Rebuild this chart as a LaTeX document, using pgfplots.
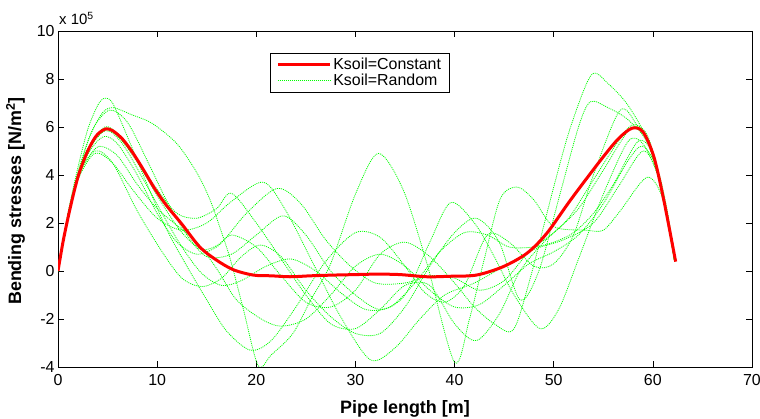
\documentclass[border=0pt]{standalone}
\usepackage{fontspec}
\setmainfont{Liberation Sans}
\usepackage{pgfplots}
\pgfplotsset{compat=1.18}
\definecolor{mgreen}{rgb}{0,1,0}
\begin{document}
\begin{tikzpicture}
\useasboundingbox (-58bp,-52bp) rectangle (702bp,367bp);
\begin{axis}[
  at={(0,0)}, anchor=south west,
  scale only axis, width=694bp, height=336bp,
  xmin=0, xmax=70, ymin=-4, ymax=10,
  xtick={0,10,...,70}, ytick={-4,-2,...,10},
  tick align=inside, tick pos=both,
  major tick length=6bp,
  axis line style={black, line width=0.8pt},
  every tick/.style={black, line width=0.6pt},
  scaled ticks=false,
  /pgf/number format/assume math mode=true,
  tick label style={font=\fontsize{16}{18}\selectfont},
  xticklabel style={yshift=-4bp},
  legend style={at={(0.3055,0.9345)}, anchor=north west, draw=black, line width=0.6pt,
    font=\fontsize{16}{18}\selectfont, inner xsep=6bp, inner ysep=3bp, row sep=-1bp},
  legend image code/.code={\draw[#1] (0bp,0bp) -- (52bp,0bp);},
  legend cell align=left,
  clip=true,
]
\addlegendimage{red, line width=3bp}
\addlegendentry{Ksoil=Constant}
\addlegendimage{mgreen, line width=0.8pt, dash pattern=on 1pt off 1pt}
\addlegendentry{Ksoil=Random}
\pgfplotsset{every axis plot/.append style={forget plot}}
% green random curves
\addplot[mgreen, line width=0.8pt, dash pattern=on 1pt off 1pt, smooth] coordinates {
(0,0)(1,2.4)(2,4.3)(3,5.9)(4,6.9)(4.7,7.2)(5.5,7.0)(7,5.6)(9,3.6)(11,1.7)(13,0.2)(15,-1.2)(17,-2.5)(19.4,-3.3)(21.5,-2.9)(24,-1.5)(27,0.4)(30,1.6)(32.5,1.4)(35,0.2)(37,-0.9)(39,-1.3)(41,-0.6)(43.3,1.5)(45.5,1.2)(48,0.2)(50,0.3)(52,1.5)(54,4.0)(56.7,6.7)(58.5,6.0)(60,4.9)(61,3.1)(62.2,0.4)};
\addplot[mgreen, line width=0.8pt, dash pattern=on 1pt off 1pt, smooth] coordinates {
(0,0)(1,2.3)(2,3.8)(3.7,4.9)(5.5,4.5)(7.5,3.4)(10,2.2)(12.5,1.7)(15,2.0)(17.5,2.9)(20.7,3.7)(23,2.5)(26,0.1)(28.5,-1.9)(31.5,-3.7)(34,-3.2)(36.5,-2.0)(39,-1.0)(42,-0.5)(45,0.2)(48,0.9)(51,1.3)(54,2.0)(56.5,3.5)(59,5.0)(60.5,4.0)(61.5,2.2)(62.2,0.4)};
\addplot[mgreen, line width=0.8pt, dash pattern=on 1pt off 1pt, smooth] coordinates {
(0,0)(1,2.3)(2,4.0)(3.2,5.6)(4.5,6.6)(5.6,6.8)(7.5,6.5)(9.5,6.15)(12,5.3)(14,4.1)(15.3,3.0)(16.3,1.85)(17.4,0.46)(18.7,-1.6)(20.2,-3.95)(21.5,-3.5)(23.7,-2.6)(25.5,-1.2)(27.5,0.3)(30,3.2)(32.3,4.9)(34.8,3.4)(37.2,0.33)(40,-3.8)(41.5,-2.0)(43,0.5)(44.6,3.0)(46.3,3.5)(48,2.96)(50,1.85)(53.3,1.7)(55,1.7)(56.7,2.5)(59.4,3.9)(61,3.0)(62.2,0.4)};
\addplot[mgreen, line width=0.8pt, dash pattern=on 1pt off 1pt, smooth] coordinates {
(0,0)(1,2.3)(2,4.1)(3.5,5.9)(5.2,6.7)(7,6.2)(9,4.6)(11,2.9)(13,1.5)(15,0.6)(17.5,0.7)(20,1.5)(22.7,2.3)(25,1.5)(27.5,0.0)(30,-1.0)(32.5,-1.6)(35,-1.0)(37.5,1.2)(39.6,2.85)(42,2.0)(44,0.6)(46,-1.0)(48.6,-2.4)(50.5,-1.6)(52.5,0.5)(55,3.2)(57.5,5.4)(59,5.3)(60.5,4.0)(61.5,2.3)(62.2,0.4)};
\addplot[mgreen, line width=0.8pt, dash pattern=on 1pt off 1pt, smooth] coordinates {
(0,0)(1,2.3)(2,3.9)(3.2,5.0)(4.6,5.6)(6,5.3)(8,4.0)(10,2.4)(12,1.2)(14,0.7)(16,1.0)(17.5,1.5)(20,1.0)(22.5,-0.2)(25,-1.3)(27.5,-1.5)(30,-0.8)(32.5,0.7)(35,1.2)(37.5,0.6)(40,-0.5)(42,-1.5)(44,-2.2)(45.9,-2.46)(47.5,-0.5)(50,3.5)(51.7,6.0)(53.8,8.17)(55.5,7.8)(57.5,6.9)(59.5,5.4)(61,3.2)(62.2,0.4)};
\addplot[mgreen, line width=0.8pt, dash pattern=on 1pt off 1pt, smooth] coordinates {
(0,0)(1,2.3)(2,3.9)(3.7,5.0)(5.5,4.5)(8,2.5)(10.5,0.8)(12.5,-0.3)(14.5,-0.65)(16.5,-0.3)(18.5,0.6)(20.4,1.08)(22.5,0.6)(25,-0.8)(27.5,-1.9)(30,-2.6)(32.5,-2.6)(35,-1.5)(37.5,0.2)(40,1.6)(42.2,2.2)(44.5,1.2)(46.6,-1.2)(48.5,0.0)(50.5,3.0)(52.5,6.0)(53.7,7.05)(55.5,6.8)(57.5,6.3)(59.5,5.3)(61,3.1)(62.2,0.4)};
\addplot[mgreen, line width=0.8pt, dash pattern=on 1pt off 1pt, smooth] coordinates {
(0,0)(1,2.3)(2,4.0)(3,5.1)(4.7,6.0)(6,5.7)(8,4.6)(10,3.4)(12,2.4)(14,2.2)(16,2.6)(17.5,3.24)(20,2.0)(22.5,0.5)(25,-1.0)(27.5,-2.2)(30,-2.4)(32.5,-1.6)(35,-0.6)(37.5,-0.6)(40,-2.2)(42.2,-2.9)(44.5,-1.8)(46.6,0.0)(49,1.2)(51.5,2.2)(54,3.8)(56.5,5.4)(58,6.1)(59.5,5.6)(61,3.3)(62.2,0.4)};
\addplot[mgreen, line width=0.8pt, dash pattern=on 1pt off 1pt, smooth] coordinates {
(0,0)(1,2.2)(2,3.9)(3,5.0)(4.8,5.9)(6.5,5.4)(8.5,4.2)(10.5,2.8)(12.5,1.6)(14.5,0.9)(16.5,1.2)(19,2.4)(22.1,3.44)(24.5,2.8)(27,1.3)(29.5,0.2)(32,-0.5)(35,-0.5)(37.5,-0.2)(40,-0.3)(42.5,-0.8)(45,-0.4)(47.5,0.8)(50,1.6)(52.5,2.6)(55,4.2)(57.8,5.95)(59.5,5.5)(61,3.2)(62.2,0.4)};
\addplot[mgreen, line width=0.8pt, dash pattern=on 1pt off 1pt, smooth] coordinates {
(0,0)(1,2.2)(2,3.9)(3,5.0)(4.8,5.85)(6.5,5.3)(8.5,3.9)(10.5,2.4)(12.5,1.0)(14.5,-0.1)(16.5,-0.6)(18.5,-0.4)(21,0.2)(23.5,0.5)(26,0.0)(28.5,-0.9)(31,-1.6)(33.5,-1.5)(36,-0.5)(38.5,0.8)(41,1.6)(43.3,1.5)(45.5,1.0)(48,1.0)(50,1.2)(52,1.6)(54,2.4)(56,3.6)(58.5,5.4)(60,4.9)(61,3.2)(62.2,0.4)};
\addplot[mgreen, line width=0.8pt, dash pattern=on 1pt off 1pt, smooth] coordinates {
(0,0)(1,2.3)(2,3.9)(3,4.7)(4.2,5.2)(6,4.8)(8,3.6)(10,2.6)(12,1.9)(14,1.2)(16,0.1)(18,-1.2)(20.5,-2.0)(22.5,-2.3)(25,-2.0)(27.5,-1.0)(30,0.2)(32.5,0.7)(35,0.2)(37.5,-0.8)(40,-1.5)(42.5,-1.4)(45,-0.6)(47.5,0.3)(50,0.8)(52.5,1.5)(55,2.8)(57.5,4.6)(59,5.2)(60.5,4.2)(61.5,2.4)(62.2,0.4)};
% red constant curve
\addplot[red, line width=3bp, smooth] coordinates {
(0,0)(0.5,1.2)(1,2.2)(1.5,3.1)(2,3.9)(2.5,4.5)(3,5.0)(3.5,5.4)(4,5.7)(4.8,5.92)(5.5,5.85)(6.5,5.5)(7.5,4.95)(8.5,4.3)(9.8,3.4)(11,2.7)(12.5,1.95)(14.3,1.0)(16,0.45)(17.7,0.05)(19.7,-0.17)(21.5,-0.2)(23.4,-0.24)(25.5,-0.2)(27.8,-0.17)(30,-0.15)(32.2,-0.13)(34.5,-0.15)(37.2,-0.24)(39.5,-0.22)(42.2,-0.17)(44.9,0.18)(47.3,0.74)(49.3,1.57)(51.7,2.96)(54.7,4.6)(56.5,5.5)(57.9,5.95)(59,5.8)(60.1,4.76)(61.1,2.96)(62.3,0.39)};
\end{axis}
\node[anchor=base west, font=\fontsize{15}{17}\selectfont, inner sep=0pt] at (1bp,342bp) {x 10\textsuperscript{5}};
\node[anchor=base, font=\bfseries\fontsize{18}{20}\selectfont, inner sep=0pt] at (347bp,-46bp) {Pipe length [m]};
\node[anchor=base, rotate=90, font=\bfseries\fontsize{18}{20}\selectfont, inner sep=0pt] at (-37bp,166bp) {Bending stresses [N/m\textsuperscript{2}]};
\end{tikzpicture}
\end{document}
